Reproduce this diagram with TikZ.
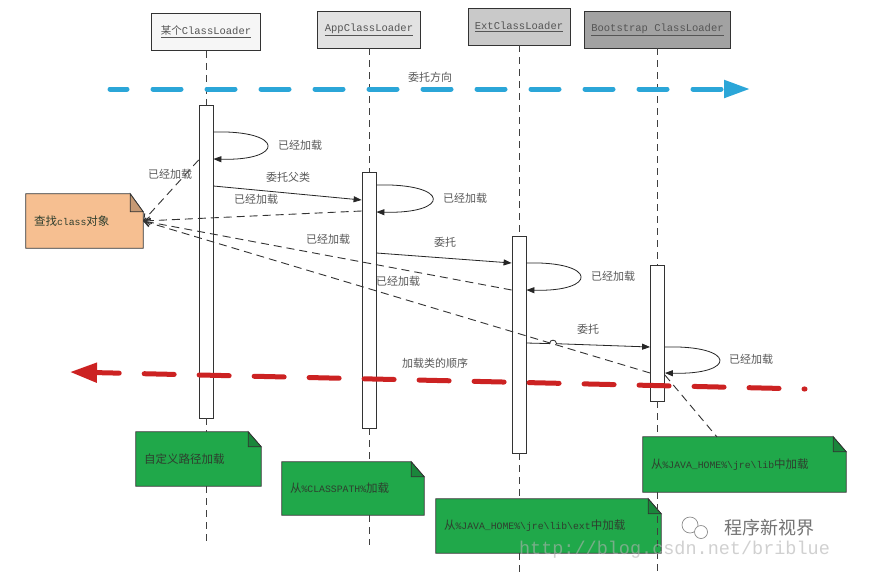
\documentclass[tikz,border=0pt]{standalone}
\usepackage{fontspec}
\setmainfont{Liberation Mono}
\newfontfamily\cjk{Noto Sans CJK SC}
\usetikzlibrary{arrows.meta,calc}
\pgfdeclarelayer{background}
\pgfdeclarelayer{paper}
\pgfsetlayers{paper,background,main}
\definecolor{hdrbd}{HTML}{333333}
\definecolor{hdrtx}{HTML}{555555}
\definecolor{hfa}{HTML}{F6F6F6}
\definecolor{hfb}{HTML}{E2E2E2}
\definecolor{hfc}{HTML}{C9C9C9}
\definecolor{hfd}{HTML}{A2A2A2}
\definecolor{notegreen}{HTML}{20A84A}
\definecolor{noteorange}{HTML}{F6BF91}
\definecolor{notetx}{HTML}{2E3E2E}
\definecolor{bluarr}{HTML}{2BA6D8}
\definecolor{redarr}{HTML}{CC2222}
\newcommand\zh[1]{{\cjk #1}}
\newcommand\zn[1]{{\cjk\fontsize{11.5}{13}\selectfont #1}}
\newcommand\notefold[3]{% name, fill, fold height
  \begin{pgfonlayer}{background}
  \filldraw[fill=#2, draw=black!80, line width=0.8pt] (#1.north west) -- ([xshift=-13pt]#1.north east) -- ([yshift=-#3]#1.north east) -- (#1.south east) -- (#1.south west) -- cycle;
  \filldraw[fill=#2!80!black, draw=black!80, line width=0.8pt] ([xshift=-13pt]#1.north east) -- ([xshift=-13pt,yshift=-#3]#1.north east) -- ([yshift=-#3]#1.north east) -- cycle;
  \end{pgfonlayer}}
\begin{document}
\begin{tikzpicture}[x=1pt,y=-1pt,
  hdr/.style={draw=hdrbd, line width=0.9pt, minimum height=37pt, inner sep=0pt, font=\fontsize{10.5}{12}\selectfont, text=hdrtx},
  act/.style={draw=black!80, fill=white, line width=0.8pt, minimum width=14pt, inner sep=0pt},
  life/.style={draw=black!75, line width=0.8pt, dash pattern=on 7pt off 5pt},
  msg/.style={draw=black!85, line width=0.8pt, -{Triangle[length=8pt,width=6pt]}},
  ret/.style={draw=black!80, line width=0.9pt, dash pattern=on 8pt off 5pt, -{Straight Barb[length=6pt,width=8pt]}},
  conn/.style={draw=black!80, line width=0.9pt, dash pattern=on 8pt off 5pt},
  lbl/.style={font=\cjk\fontsize{11}{13}\selectfont, text=black!65, inner sep=0pt},
  notebox/.style={draw=none, inner xsep=8pt, inner ysep=0pt, align=left, font=\fontsize{9.8}{12}\selectfont, text=notetx},
  bigarrow/.style={line width=5pt, line cap=round}
]
\useasboundingbox (0,0) rectangle (875,576);
\begin{pgfonlayer}{paper}
\fill[white] (0,0) rectangle (875,576);
\end{pgfonlayer}

% headers
\node[hdr, fill=hfa, minimum width=109pt] (h1) at (206,32) {\underline{\zh{某个}ClassLoader}};
\node[hdr, fill=hfb, minimum width=103pt] (h2) at (369,29.5) {\underline{AppClassLoader}};
\node[hdr, fill=hfc, minimum width=102pt] (h3) at (519,26.5) {\underline{ExtClassLoader}};
\node[hdr, fill=hfd, minimum width=146pt] (h4) at (657.5,29.5) {\underline{Bootstrap ClassLoader}};

% notes
\node[notebox, text width=101pt, minimum height=54pt] (q) at (84.5,221) {\zn{查找}class\zn{对象}};
\notefold{q}{noteorange}{18pt}
\node[notebox, text width=109pt, minimum height=54pt] (n1) at (198.5,459) {\zn{自定义路径加载}};
\notefold{n1}{notegreen}{15pt}
\node[notebox, text width=126pt, minimum height=53pt] (n2) at (353,488.5) {\zn{从}\%CLASSPATH\%\zn{加载}};
\notefold{n2}{notegreen}{15pt}
\node[notebox, text width=209pt, minimum height=54pt] (n3) at (548.5,526) {\zn{从}\%JAVA\_HOME\%\textbackslash jre\textbackslash lib\textbackslash ext\zn{中加载}};
\notefold{n3}{notegreen}{15pt}
\node[notebox, text width=187pt, minimum height=55pt] (n4) at (744.5,464.5) {\zn{从}\%JAVA\_HOME\%\textbackslash jre\textbackslash lib\zn{中加载}};
\notefold{n4}{notegreen}{15pt}

% activations
\node[act, minimum height=313pt] (a1) at (206,261.5) {};
\node[act, minimum height=256pt] (a2) at (369,300) {};
\node[act, minimum height=217pt] (a3) at (519,344.5) {};
\node[act, minimum height=136pt] (a4) at (657.5,333) {};

% lifelines
\coordinate (e1) at (206,545);
\coordinate (e2) at (369,545);
\coordinate (e3) at (519,572);
\coordinate (e4) at (657.5,572);
\draw[life] (h1.south) -- (a1.north);
\draw[life] (a1.south) -- (a1.south |- n1.north);
\draw[life] (a1.south |- n1.south) -- (e1);
\draw[life] (h2.south) -- (a2.north);
\draw[life] (a2.south) -- (a2.south |- n2.north);
\draw[life] (a2.south |- n2.south) -- (e2);
\draw[life] (h3.south) -- (a3.north);
\draw[life] (a3.south) -- (a3.south |- n3.north);
\draw[life] (a3.south |- n3.south) -- (e3);
\draw[life] (h4.south) -- (a4.north);
\draw[life] (a4.south) -- (a4.south |- n4.north);
\draw[life] (a4.south |- n4.south) -- (e4);

% big direction arrows
\coordinate (b0) at (110,89);
\coordinate (b1) at (750,89);
\draw[bigarrow, bluarr, dash pattern=on 28pt off 26pt, dash phase=11pt, -{Triangle[length=26pt,width=17pt]}] (b0) -- (b1);
\node[lbl] (tb) at (430,77) {委托方向};
\coordinate (r0) at (805,389);
\coordinate (r1) at (70,372);
\draw[bigarrow, redarr, dash pattern=on 30pt off 25pt, dash phase=29pt, -{Triangle[length=27pt,width=19pt]}] (r0) -- (r1);
\node[lbl] (tr) at (435,363) {加载类的顺序};

% self calls
\draw[msg] (a1.east |- 0,132) .. controls (285,130) and (285,161) .. (a1.east |- 0,159);
\draw[msg] (a2.east |- 0,185) .. controls (451,183) and (451,214) .. (a2.east |- 0,212);
\draw[msg] (a3.east |- 0,263) .. controls (598,261) and (598,292) .. (a3.east |- 0,290);
\draw[msg] (a4.east |- 0,347) .. controls (737,345) and (737,375) .. (a4.east |- 0,373);

% delegation messages
\draw[msg] (a1.east |- 0,186) -- (a2.west |- 0,200);
\draw[msg] (a2.east |- 0,253) -- (a3.west |- 0,263);
\draw[msg] (a3.east |- 0,343) -- (549.5,343.6) .. controls (549.5,339) and (556.5,339) .. (556.5,343.7) -- (a4.west |- 0,347);

% returns
\draw[ret] (a1.west |- 0,160) -- (q.east);
\draw[ret] (a2.west |- 0,211) -- (q.east);
\draw[ret] (a3.west |- 0,290) -- (q.east);
\draw[ret] (a4.west |- 0,373) -- (q.east);
\coordinate (c4) at (717,437);
\draw[conn] (a4.east |- 0,375) -- (c4);

% labels
\node[lbl] (l1) at (300,145) {已经加载};
\node[lbl] (l2) at (170,174) {已经加载};
\node[lbl] (l3) at (288,177) {委托父类};
\node[lbl] (l4) at (256,199) {已经加载};
\node[lbl] (l5) at (465,198) {已经加载};
\node[lbl] (l6) at (328,239) {已经加载};
\node[lbl] (l7) at (445,242) {委托};
\node[lbl] (l8) at (613,276) {已经加载};
\node[lbl] (l9) at (398,281) {已经加载};
\node[lbl] (l10) at (588,329) {委托};
\node[lbl] (l11) at (751,359) {已经加载};

% watermark
\draw[black!45, line width=0.7pt] (690,525) circle[radius=8];
\draw[black!45, line width=0.7pt, fill=white] (701,532) circle[radius=6.5];
\node[font=\cjk\fontsize{18}{22}\selectfont, text=black!55, inner sep=0pt] (wm1) at (769,528) {程序新视界};
\node[font=\fontsize{18.5}{22}\selectfont, text=black!30, opacity=0.6, inner sep=0pt] (wm2) at (674.5,550) {http://blog.csdn.net/briblue};
\end{tikzpicture}
\end{document}
